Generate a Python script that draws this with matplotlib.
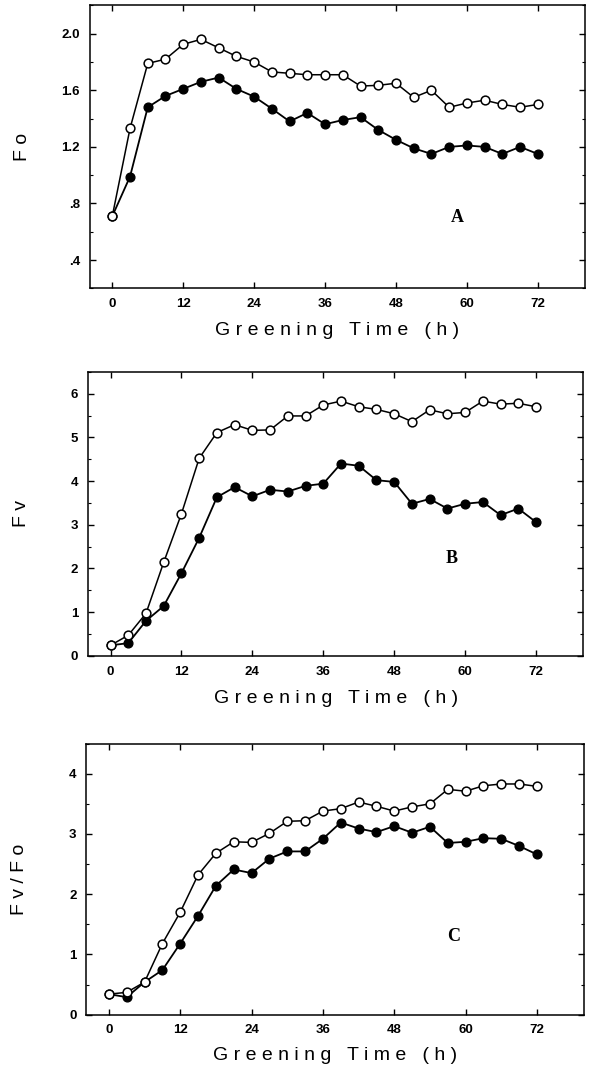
import numpy as np
import matplotlib.pyplot as plt
from matplotlib.ticker import MultipleLocator

plt.rcParams['font.family'] = ['Liberation Sans', 'DejaVu Sans']

hours = np.arange(0, 73, 3)

fo_open = [0.71, 1.33, 1.79, 1.82, 1.925, 1.96, 1.90, 1.84, 1.80, 1.73, 1.72, 1.71, 1.71,
           1.71, 1.63, 1.635, 1.65, 1.55, 1.60, 1.48, 1.51, 1.53, 1.50, 1.48, 1.50]
fo_fill = [0.71, 0.99, 1.48, 1.56, 1.61, 1.66, 1.69, 1.61, 1.555, 1.47, 1.38, 1.44, 1.36,
           1.39, 1.41, 1.32, 1.25, 1.19, 1.15, 1.20, 1.21, 1.20, 1.15, 1.20, 1.15]

fv_open = [0.24, 0.47, 0.97, 2.14, 3.25, 4.52, 5.11, 5.29, 5.16, 5.17, 5.49, 5.49, 5.74,
           5.83, 5.70, 5.64, 5.54, 5.36, 5.63, 5.54, 5.57, 5.83, 5.76, 5.78, 5.70]
fv_fill = [0.24, 0.29, 0.80, 1.14, 1.89, 2.70, 3.63, 3.86, 3.65, 3.80, 3.76, 3.89, 3.94,
           4.40, 4.35, 4.02, 3.98, 3.48, 3.59, 3.37, 3.48, 3.52, 3.22, 3.37, 3.06]

ratio_open = [0.34, 0.37, 0.54, 1.18, 1.70, 2.32, 2.68, 2.87, 2.86, 3.01, 3.21, 3.22, 3.38,
              3.42, 3.53, 3.46, 3.38, 3.45, 3.50, 3.74, 3.71, 3.80, 3.83, 3.83, 3.79]
ratio_fill = [0.34, 0.29, 0.54, 0.74, 1.18, 1.64, 2.14, 2.41, 2.35, 2.59, 2.71, 2.71, 2.92,
              3.19, 3.09, 3.03, 3.13, 3.02, 3.12, 2.85, 2.87, 2.93, 2.92, 2.80, 2.66]

xticks = [0, 12, 24, 36, 48, 60, 72]

panels = [
    # rect, open series, filled series, ylim, yticks, labels, minor step, ylabel, letter, letter pos
    ([0.152, 0.734, 0.838, 0.261], fo_open, fo_fill, (0.2, 2.2),
     [2.0, 1.6, 1.2, 0.8, 0.4], ['2.0', '1.6', '1.2', '.8', '.4'], 0.2, 'F o', 'A', (58.3, 0.70)),
    ([0.149, 0.395, 0.838, 0.262], fv_open, fv_fill, (0, 6.5),
     [0, 1, 2, 3, 4, 5, 6], ['0', '1', '2', '3', '4', '5', '6'], 0.5, 'F v', 'B', (57.7, 2.23)),
    ([0.146, 0.064, 0.843, 0.250], ratio_open, ratio_fill, (0, 4.5),
     [0, 1, 2, 3, 4], ['0', '1', '2', '3', '4'], 0.5, 'F v / F o', 'C', (58.0, 1.29)),
]

fig = plt.figure(figsize=(5.91, 10.84), dpi=100)

for rect, y_open, y_fill, ylim, yt, ytl, minor, ylab, letter, lpos in panels:
    ax = fig.add_axes(rect)
    ax.plot(hours, y_fill, '-o', color='k', lw=1.3, ms=6.3, mfc='k', mec='k', zorder=3)
    ax.plot(hours, y_open, '-o', color='k', lw=1.1, ms=6.3, mfc='white', mec='k',
            mew=1.1, zorder=4)
    ax.set_xlim(-3.8, 80)
    ax.set_ylim(*ylim)
    ax.set_xticks(xticks)
    ax.set_xticklabels([str(t) for t in xticks], fontsize=9.5, fontweight='bold')
    ax.set_yticks(yt)
    ax.set_yticklabels(ytl, fontsize=9.5, fontweight='bold')
    ax.yaxis.set_minor_locator(MultipleLocator(minor))
    ax.tick_params(direction='in', top=True, right=True, length=4, width=1, pad=7)
    ax.tick_params(which='minor', direction='in', right=True, length=2.5, width=0.8)
    for s in ax.spines.values():
        s.set_linewidth(1.1)
    ax.set_xlabel('G r e e n i n g   T i m e   ( h )', fontsize=14, va='center')
    ax.xaxis.set_label_coords(0.5, -0.15)
    ax.set_ylabel(ylab, fontsize=14, va='center')
    ax.yaxis.set_label_coords(-0.135, 0.5)
    ax.text(lpos[0], lpos[1], letter, fontsize=13, fontweight='bold',
            family='Liberation Serif', ha='center', va='center')

fig.savefig('out.png', dpi=100)
